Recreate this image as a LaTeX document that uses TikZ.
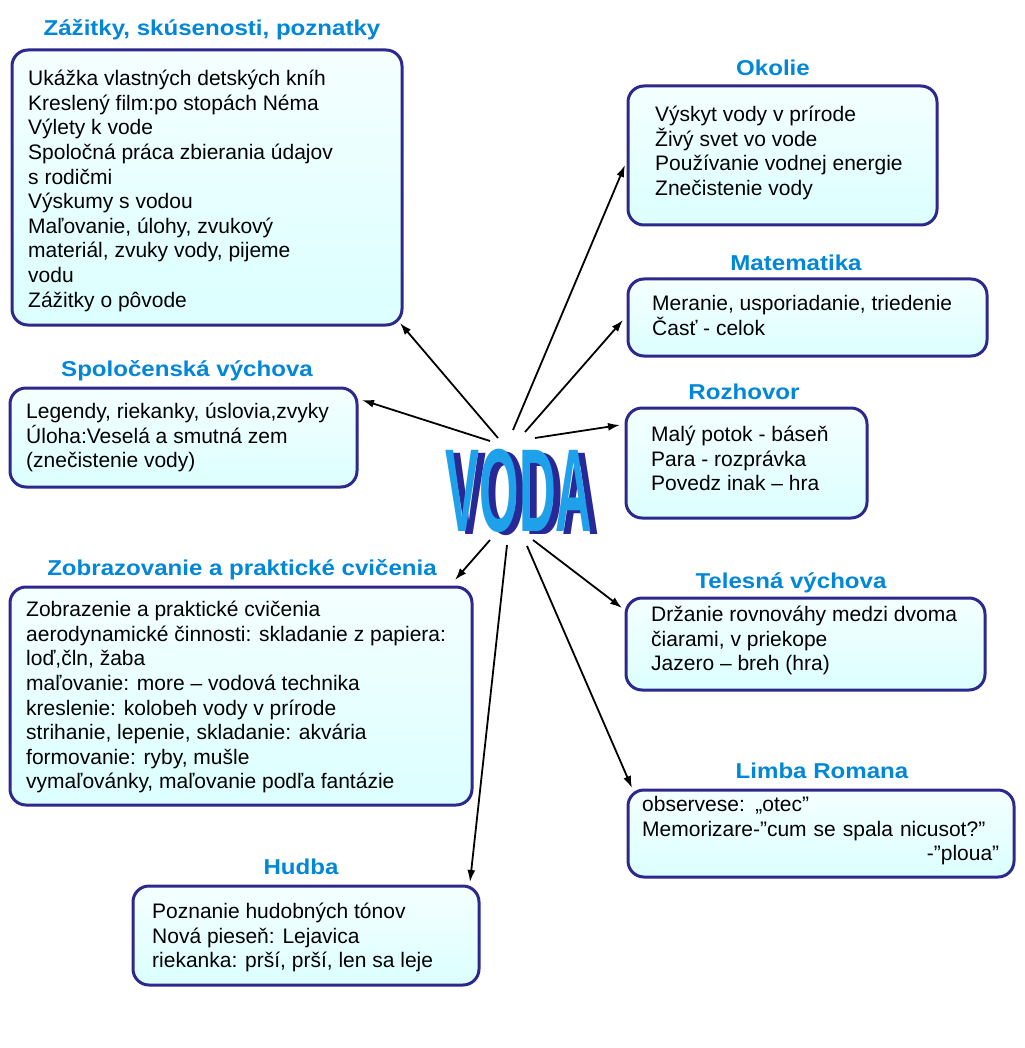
\documentclass[tikz,border=0pt]{standalone}
\usepackage{fontspec}
\setmainfont{Liberation Sans}
\usetikzlibrary{positioning,arrows.meta}
\definecolor{titleblue}{RGB}{0,135,215}
\definecolor{boxline}{RGB}{45,40,140}
\definecolor{vodalight}{RGB}{30,160,235}
\definecolor{vodadark}{RGB}{40,40,150}
\newcommand{\dq}{\char"22}

\tikzset{
  topic/.style={draw=boxline, line width=3pt, rounded corners=16pt,
    top color=cyan!4, bottom color=cyan!14, anchor=north west,
    align=left, inner sep=0pt, text depth=0pt},
  heading/.style={text=titleblue, font=\fontsize{21.5}{24}\selectfont\bfseries, xscale=1.12},
  bodytext/.style={font=\fontsize{21}{24.6}\selectfont, anchor=north west, align=left, inner sep=0pt},
  link/.style={-{Latex[length=12pt,width=8pt]}, line width=1.8pt}
}

\begin{document}
\begin{tikzpicture}[x=1pt,y=-1pt]
  \useasboundingbox[fill=white] (0,0) rectangle (1024,1048);

  % boxes
  \draw[topic] (12,50) rectangle (402,325);
  \draw[topic] (10,388) rectangle (357,487);
  \draw[topic] (10,587) rectangle (472,805);
  \draw[topic] (133,886) rectangle (479,985);
  \draw[topic] (628,86) rectangle (937,225);
  \draw[topic] (628,279) rectangle (987,356);
  \draw[topic] (626,408) rectangle (867,518);
  \draw[topic] (626,598) rectangle (985,690);
  \draw[topic] (628,790) rectangle (1014,877);

  % invisible targets for connectors
  \coordinate (zazitky) at (400,323);
  \coordinate (spolocenska) at (362,400);
  \coordinate (zobrazovanie) at (455,580);
  \coordinate (hudba) at (470,882);
  \coordinate (okolie) at (625,165);
  \coordinate (matematika) at (623,320);
  \coordinate (rozhovor) at (620,425);
  \coordinate (telesna) at (622,608);
  \coordinate (limba) at (632,788);

  % headings
  \node[heading] (h1) at (212,30) {Zážitky, skúsenosti, poznatky};
  \node[heading] (h2) at (187,371) {Spoločenská výchova};
  \node[heading] (h3) at (242,570) {Zobrazovanie a praktické cvičenia};
  \node[heading] (h4) at (301,867) {Hudba};
  \node[heading] (h5) at (773,68) {Okolie};
  \node[heading] (h6) at (796,263) {Matematika};
  \node[heading] (h7) at (744,392) {Rozhovor};
  \node[heading] (h8) at (791,583) {Telesná výchova};
  \node[heading] (h9) at (822,771) {Limba Romana};

  % texts
  \node[bodytext] (t1) at (28,70) {Ukážka vlastných detských kníh\\Kreslený film:po stopách Néma\\Výlety k vode\\Spoločná práca zbierania údajov\\s rodičmi\\Výskumy s vodou\\Maľovanie, úlohy, zvukový\\materiál, zvuky vody, pijeme\\vodu\\Zážitky o pôvode};
  \node[bodytext] (t2) at (26,403) {Legendy, riekanky, úslovia,zvyky\\Úloha:Veselá a smutná zem\\(znečistenie vody)};
  \node[bodytext] (t3) at (26,601) {Zobrazenie a praktické cvičenia\\aerodynamické činnosti: skladanie z papiera:\\loď,čln, žaba\\maľovanie: more – vodová technika\\kreslenie: kolobeh vody v prírode\\strihanie, lepenie, skladanie: akvária\\formovanie: ryby, mušle\\vymaľovánky, maľovanie podľa fantázie};
  \node[bodytext] (t4) at (152,903) {Poznanie hudobných tónov\\Nová pieseň: Lejavica\\riekanka: prší, prší, len sa leje};
  \node[bodytext] (t5) at (655,106) {Výskyt vody v prírode\\Živý svet vo vode\\Používanie vodnej energie\\Znečistenie vody};
  \node[bodytext] (t6) at (652,295) {Meranie, usporiadanie, triedenie\\Časť - celok};
  \node[bodytext] (t7) at (651,426) {Malý potok - báseň\\Para - rozprávka\\Povedz inak – hra};
  \node[bodytext] (t8) at (651,606) {Držanie rovnováhy medzi dvoma\\čiarami, v priekope\\Jazero – breh (hra)};
  \node[bodytext, text width=357pt] (t9) at (642,796) {observese: „otec\dq\\Memorizare-\dq cum se spala nicusot?\dq\\\hfill-\dq ploua”};

  % centre word
  \node[text=vodadark, font=\fontsize{118}{118}\selectfont\bfseries, xscale=0.43] (vodash) at (526,494) {VODA};
  \node[text=vodalight, font=\fontsize{118}{118}\selectfont\bfseries, xscale=0.43] (voda) at (519,491) {VODA};

  % connector tails
  \coordinate (c1) at (498,438);
  \coordinate (c2) at (490,441);
  \coordinate (c3) at (490,540);
  \coordinate (c4) at (507,545);
  \coordinate (c5) at (513,430);
  \coordinate (c6) at (525,432);
  \coordinate (c7) at (535,438);
  \coordinate (c8) at (533,540);
  \coordinate (c9) at (527,546);

  \draw[link] (c1) -- (zazitky);
  \draw[link] (c2) -- (spolocenska);
  \draw[link] (c3) -- (zobrazovanie);
  \draw[link] (c4) -- (hudba);
  \draw[link] (c5) -- (okolie);
  \draw[link] (c6) -- (matematika);
  \draw[link] (c7) -- (rozhovor);
  \draw[link] (c8) -- (telesna);
  \draw[link] (c9) -- (limba);
\end{tikzpicture}
\end{document}
